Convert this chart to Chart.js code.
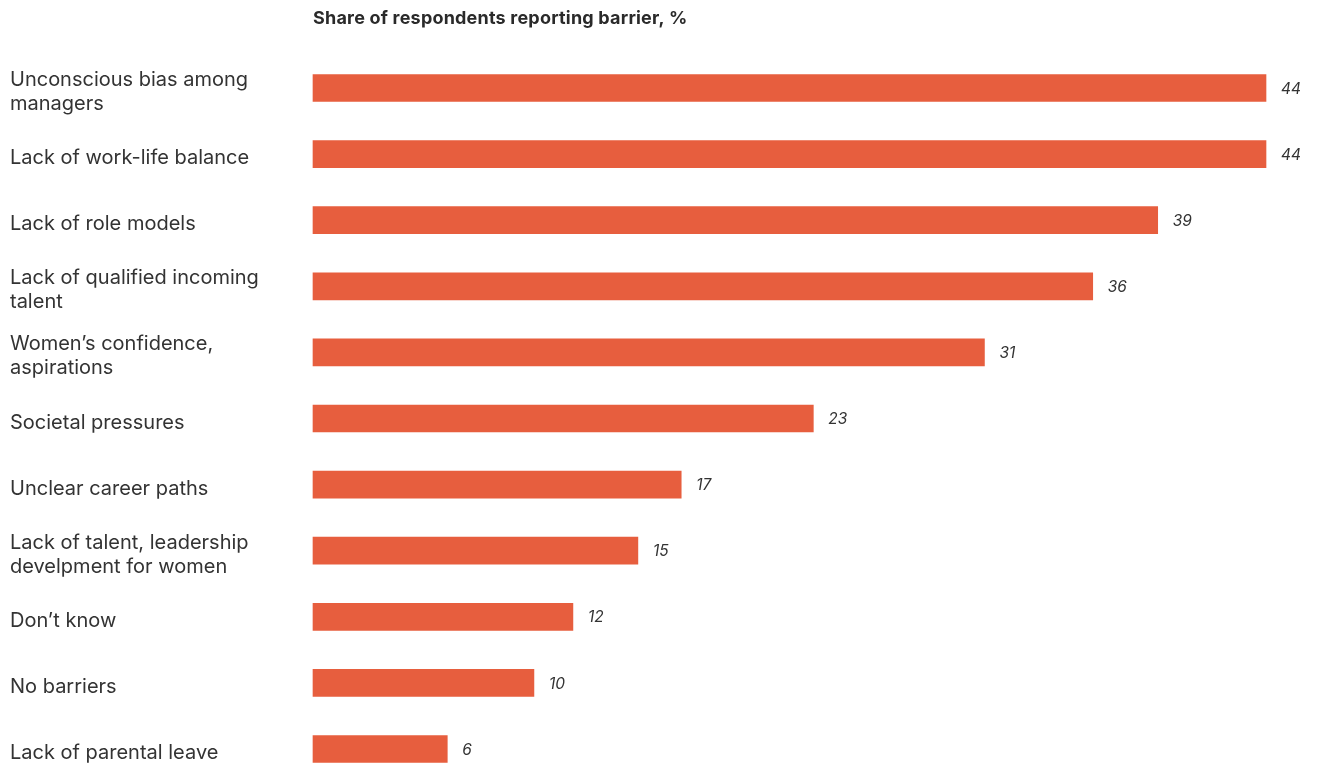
<!DOCTYPE html>
<html>
<head>
<meta charset="utf-8">
<script src="https://cdn.jsdelivr.net/npm/chart.js@4"></script>
<style>
  html, body { margin: 0; padding: 0; background: #fff; overflow: hidden; }
  #wrap { position: relative; width: 1317px; height: 764px; }
</style>
</head>
<body>
<div id="wrap"><canvas id="barriers"></canvas></div>
<script>
const categories = [
  ["Unconscious bias among", "managers"],
  "Lack of work-life balance",
  "Lack of role models",
  ["Lack of qualified incoming", "talent"],
  ["Women\u2019s confidence,", "aspirations"],
  "Societal pressures",
  "Unclear career paths",
  ["Lack of talent, leadership", "develpment for women"],
  "Don\u2019t know",
  "No barriers",
  "Lack of parental leave"
];
const shares = [44, 44, 39, 36, 31, 23.1, 17, 15, 12, 10.2, 6.2];
const title = "Share of respondents reporting barrier, %";

const FONT = "Inter, 'Noto Sans', sans-serif";

// value labels next to each bar
const valueLabels = {
  id: "valueLabels",
  afterDatasetsDraw(chart) {
    const ctx = chart.ctx;
    const meta = chart.getDatasetMeta(0);
    ctx.save();
    ctx.font = "italic 15.5px " + FONT;
    ctx.fillStyle = "#333";
    ctx.textAlign = "left";
    ctx.textBaseline = "middle";
    meta.data.forEach((bar, i) => {
      ctx.fillText(String(Math.round(shares[i])), bar.x + 15, bar.y + 1);
    });
    ctx.restore();
  }
};

// bold heading above the bars, aligned with the plot
const heading = {
  id: "heading",
  afterDraw(chart) {
    const ctx = chart.ctx;
    ctx.save();
    ctx.font = "bold 18px " + FONT;
    ctx.letterSpacing = "0.2px";
    ctx.fillStyle = "#2a2a2a";
    ctx.textAlign = "left";
    ctx.textBaseline = "middle";
    ctx.fillText(title, chart.chartArea.left, 19);
    ctx.restore();
  }
};

new Chart(document.getElementById("barriers"), {
  type: "bar",
  data: {
    labels: categories,
    datasets: [{
      data: shares,
      backgroundColor: "#E75E3E",
      barThickness: 27,
      clip: false
    }]
  },
  options: {
    indexAxis: "y",
    responsive: true,
    maintainAspectRatio: false,
    animation: false,
    layout: { padding: { left: 10, right: 51, top: 88, bottom: 15 } },
    plugins: {
      legend: { display: false },
      tooltip: { enabled: false }
    },
    scales: {
      x: {
        display: false,
        min: 0,
        max: 44
      },
      y: {
        offset: false,
        grid: { display: false },
        border: { display: false },
        ticks: {
          crossAlign: "far",
          labelOffset: 4,
          color: "#333",
          font: { family: FONT, size: 20, lineHeight: 1.2 }
        },
        afterFit(scale) {
          scale.width = 303;
          scale.paddingTop = 0;
          scale.paddingBottom = 0;
        }
      }
    }
  },
  plugins: [valueLabels, heading]
});
</script>
</body>
</html>
